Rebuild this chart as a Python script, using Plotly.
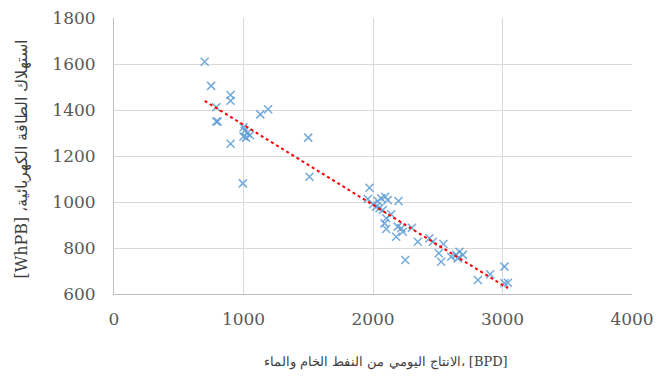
import numpy as np
import plotly.graph_objects as go

production_bpd = [700, 750, 900, 900, 790, 790, 800, 1130, 1190, 1000, 1010, 1030, 1000, 1050, 1020,
                  900, 1500, 1510, 995,
                  1973, 1960, 2000, 2025, 2050, 2037, 2063, 2094, 2114, 2076, 2102, 2089, 2102, 2140,
                  2197, 2191, 2218, 2179, 2230, 2300, 2346, 2436, 2462, 2249, 2544, 2508, 2526, 2604,
                  2642, 2668, 2694, 2655, 2810, 2905, 3015, 3015, 3041]
energy_whpb = [1610, 1505, 1465, 1440, 1412, 1350, 1350, 1381, 1403, 1325, 1310, 1300, 1285, 1290, 1280,
               1253, 1280, 1110, 1081,
               1062, 1013, 990, 980, 973, 1004, 1016, 1023, 1009, 965, 929, 907, 883, 947,
               1004, 893, 886, 849, 871, 888, 827, 842, 827, 748, 817, 777, 740, 762,
               770, 784, 770, 755, 661, 686, 719, 647, 649]

x_ticks = [0, 1000, 2000, 3000, 4000]
y_ticks = [600, 800, 1000, 1200, 1400, 1600, 1800]

x_title = "الانتاج اليومي من النفط الخام والماء، [BPD]"
y_title = "[WhPB] ،" + "استهلاك الطاقة الكهربائية"

# linear trendline (least squares) over the data range
coef = np.polyfit(production_bpd, energy_whpb, 1)
tx = np.array([min(production_bpd), max(production_bpd)])
ty = np.polyval(coef, tx)

fig = go.Figure()
fig.add_trace(go.Scatter(
    x=production_bpd, y=energy_whpb, mode="markers",
    marker=dict(symbol="x-thin", size=8, line=dict(width=1.5, color="rgba(91,155,213,0.85)")),
    showlegend=False,
))
fig.add_trace(go.Scatter(
    x=tx, y=ty, mode="lines",
    line=dict(color="#FF0000", width=2, dash="dot"),
    showlegend=False,
))

font_fam = "DejaVu Serif"
tick_font = dict(family=font_fam, size=17, color="#595959")

fig.update_layout(
    width=657, height=379,
    margin=dict(l=114, r=25, t=18, b=85),
    paper_bgcolor="white", plot_bgcolor="white",
    font=dict(family=font_fam, size=17, color="#595959"),
    xaxis=dict(
        range=[0, 4000], tickvals=x_ticks, showgrid=True, gridcolor="#D9D9D9", gridwidth=1,
        zeroline=False, showline=True, linecolor="#BFBFBF", ticks="", ticklabelstandoff=10,
        tickfont=tick_font, automargin=False,
    ),
    yaxis=dict(
        range=[600, 1800], tickvals=y_ticks, showgrid=True, gridcolor="#D9D9D9", gridwidth=1,
        zeroline=False, showline=True, linecolor="#BFBFBF", ticks="", ticklabelstandoff=14,
        tickfont=tick_font, automargin=False,
    ),
    annotations=[
        dict(text=x_title, xref="paper", yref="paper", x=0.525, y=-0.245,
             xanchor="center", yanchor="middle", showarrow=False,
             font=dict(family=font_fam, size=13, color="#404040")),
        dict(text=y_title, xref="paper", yref="paper", x=-0.178, y=0.49,
             xanchor="center", yanchor="middle", showarrow=False, textangle=-90,
             font=dict(family=font_fam, size=16, color="#404040")),
    ],
)
fig.write_html("out.html")
